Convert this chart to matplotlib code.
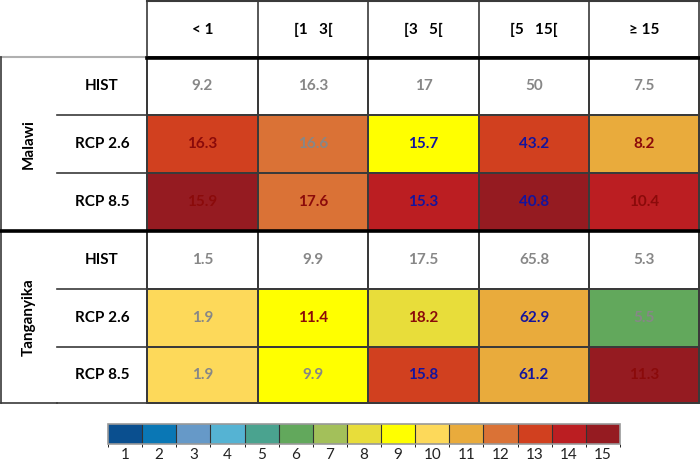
import numpy as np
import matplotlib
matplotlib.use("Agg")
import matplotlib.pyplot as plt
from matplotlib.colors import ListedColormap, BoundaryNorm
from matplotlib.cm import ScalarMappable

plt.rcParams['font.family'] = ['Lato', 'DejaVu Sans']

# ---------------------------
# Data
# ---------------------------
columns = ["< 1", "[1   3[", "[3   5[", "[5   15[", "\u2265 15"]
groups = ["Malawi", "Tanganyika"]
scenarios = ["HIST", "RCP 2.6", "RCP 8.5"]

malawi_hist = [9.2, 16.3, 17, 50, 7.5]
malawi_rcp26 = [16.3, 16.6, 15.7, 43.2, 8.2]
malawi_rcp85 = [15.9, 17.6, 15.3, 40.8, 10.4]
tang_hist = [1.5, 9.9, 17.5, 65.8, 5.3]
tang_rcp26 = [1.9, 11.4, 18.2, 62.9, 5.5]
tang_rcp85 = [1.9, 9.9, 15.8, 61.2, 11.3]

# colour class of each cell (None = no fill)
malawi_hist_cls = [None] * 5
malawi_rcp26_cls = [13, 12, 9, 13, 11]
malawi_rcp85_cls = [15, 12, 14, 15, 14]
tang_hist_cls = [None] * 5
tang_rcp26_cls = [10, 9, 8, 11, 6]
tang_rcp85_cls = [10, 9, 13, 11, 15]

# text colour of each cell: g = grey, r = dark red, b = blue
malawi_hist_txt = "ggggg"
malawi_rcp26_txt = "rgbbr"
malawi_rcp85_txt = "rrbbr"
tang_hist_txt = "ggggg"
tang_rcp26_txt = "grrbg"
tang_rcp85_txt = "ggbbr"

class_levels = list(range(1, 16))
class_colors = ["#0a4f8f", "#0a77b5", "#6699c8", "#55b3d3", "#4aa38f",
                "#62a85c", "#a3c05a", "#e8dd3a", "#ffff00", "#fdd95a",
                "#e9ab3c", "#da7236", "#d1401f", "#bb1e22", "#951b21"]

values = [malawi_hist, malawi_rcp26, malawi_rcp85, tang_hist, tang_rcp26, tang_rcp85]
classes = [malawi_hist_cls, malawi_rcp26_cls, malawi_rcp85_cls,
           tang_hist_cls, tang_rcp26_cls, tang_rcp85_cls]
txt_codes = [malawi_hist_txt, malawi_rcp26_txt, malawi_rcp85_txt,
             tang_hist_txt, tang_rcp26_txt, tang_rcp85_txt]
txt_colors = {"g": "#878787", "r": "#8b0a0a", "b": "#14149e"}

# ---------------------------
# Layout (pixel grid)
# ---------------------------
x_edges = [147, 258, 368, 479, 589, 699]
y_edges = [57, 115, 173, 231, 289, 347, 403]
x_group = (1, 57)
x_scen = (57, 147)
y_head = (0, 57)

fig = plt.figure(figsize=(7, 4.62), dpi=100)
ax = fig.add_axes([0, 0, 1, 1])
ax.set_xlim(0, 700)
ax.set_ylim(462, 0)
ax.axis("off")

cmap = ListedColormap(class_colors)
norm = BoundaryNorm(np.arange(0.5, 16.5, 1), cmap.N)

grid = np.ma.masked_invalid(np.array(
    [[np.nan if c is None else c for c in row] for row in classes], dtype=float))
ax.pcolormesh(x_edges, y_edges, grid, cmap=cmap, norm=norm,
              edgecolor="#3a3a3a", linewidth=1.2, zorder=1)

line_c = "#3a3a3a"
# vertical lines of data area + header
for x in x_edges:
    ax.plot([x, x], [y_head[0], y_edges[-1]], color=line_c, lw=1.2, zorder=2)
# horizontal row lines
for y in y_edges:
    ax.plot([x_group[1], x_edges[-1]], [y, y], color=line_c, lw=1.2, zorder=2)
ax.plot([x_edges[0], x_edges[-1]], [0.6, 0.6], color=line_c, lw=1.5, zorder=2)
ax.plot([x_group[0], x_edges[0]], [y_head[1] - 0.5, y_head[1] - 0.5], color="#b0b0b0", lw=1.5, zorder=2)
ax.plot([x_edges[0], x_edges[-1]], [y_head[1] + 0.5, y_head[1] + 0.5], color="black", lw=2.6, zorder=3)
ax.plot([0, x_edges[-1]], [y_edges[3], y_edges[3]], color="black", lw=2.6, zorder=3)
for x in [x_group[0], x_scen[1]]:
    ax.plot([x, x], [y_head[1], y_edges[-1]], color=line_c, lw=1.2, zorder=2)
ax.plot([x_group[0], x_group[1]], [y_edges[-1], y_edges[-1]], color=line_c, lw=1.2, zorder=2)

fs = 11
# header labels
for j, col in enumerate(columns):
    ax.text((x_edges[j] + x_edges[j + 1]) / 2, 30, col, ha="center", va="center",
            fontsize=fs, fontweight="bold", color="black")

# group + scenario labels
for g, name in enumerate(groups):
    y0, y1 = y_edges[3 * g], y_edges[3 * g + 3]
    ax.text(29, (y0 + y1) / 2, name, rotation=90, ha="center", va="center",
            fontsize=fs, fontweight="bold")
    for s, scen in enumerate(scenarios):
        r = 3 * g + s
        ax.text((x_scen[0] + x_scen[1]) / 2, (y_edges[r] + y_edges[r + 1]) / 2, scen,
                ha="center", va="center", fontsize=fs, fontweight="bold")

# cell values
for r, row in enumerate(values):
    for j, v in enumerate(row):
        ax.text((x_edges[j] + x_edges[j + 1]) / 2, (y_edges[r] + y_edges[r + 1]) / 2,
                f"{v:g}", ha="center", va="center", fontsize=fs, fontweight="bold",
                color=txt_colors[txt_codes[r][j]])

# ---------------------------
# Colour legend
# ---------------------------
cax = fig.add_axes([108 / 700, 1 - 444 / 462, 512 / 700, 20 / 462])
cb = fig.colorbar(ScalarMappable(norm=norm, cmap=cmap), cax=cax,
                  orientation="horizontal", ticks=class_levels, drawedges=True)
cb.outline.set_edgecolor("#999999")
cb.outline.set_linewidth(1.2)
cb.dividers.set_color("#333333")
cb.dividers.set_linewidth(0.8)
cax.tick_params(length=0, labelsize=11, pad=3, labelcolor="#222222")

fig.savefig("out.png", dpi=100)
